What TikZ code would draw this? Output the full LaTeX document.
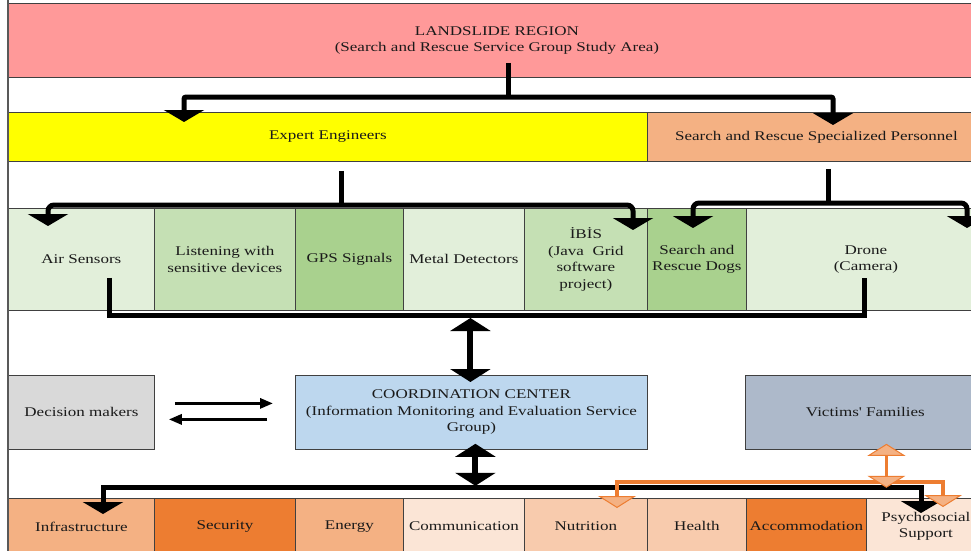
\documentclass[tikz,border=0pt]{standalone}
\usepackage{fontspec}
\setmainfont[FakeStretch=1.28]{Liberation Serif}
\newfontfamily\plainserif[FakeStretch=1.28,Ligatures=TeXOff]{Liberation Serif}
\usetikzlibrary{arrows.meta}
\definecolor{pinkc}{HTML}{FF9999}
\definecolor{yelc}{HTML}{FFFF00}
\definecolor{peachc}{HTML}{F4B183}
\definecolor{grnA}{HTML}{E2EFDA}
\definecolor{grnB}{HTML}{C5E0B4}
\definecolor{grnC}{HTML}{A9D18E}
\definecolor{greyc}{HTML}{D9D9D9}
\definecolor{bluec}{HTML}{BDD7EE}
\definecolor{slatec}{HTML}{ADB9CA}
\definecolor{orangec}{HTML}{ED7D31}
\definecolor{lightor}{HTML}{FBE5D6}
\definecolor{midor}{HTML}{F8CBAD}
\definecolor{bordc}{HTML}{404040}
\definecolor{txtc}{HTML}{1A1A1A}
\tikzset{
  BigTri/.tip={Triangle[width=40pt,length=12pt]},
  DblTri/.tip={Triangle[width=40pt,length=13pt]},
  OrTri/.tip={Triangle[width=38pt,length=12pt,fill=peachc,line width=1pt]},
  SmTri/.tip={Triangle[width=10pt,length=13pt]},
}
\begin{document}
\begin{tikzpicture}[x=1pt,y=-1pt,
  every node/.style={font=\fontsize{13.3}{16.6}\selectfont},
  cell/.style={draw=bordc, line width=0.8pt, anchor=north west, inner sep=0pt, align=center, text=txtc},
  blk/.style={draw=black, line width=5pt},
  dblk/.style={draw=black, line width=6pt, DblTri-DblTri},
  orl/.style={draw=orangec, line width=3.5pt},
  thinar/.style={draw=black, line width=3pt, -SmTri}]
\useasboundingbox (0,0) rectangle (971,551);
\clip (0,0) rectangle (971,551);
\fill[white] (0,0) rectangle (971,551);

% row 0
\node[cell, fill=pinkc, minimum width=977pt, minimum height=74pt] (land) at (8,3)
  {LANDSLIDE REGION\\(Search and Rescue Service Group Study Area)};
% row 1
\node[cell, fill=yelc, minimum width=639pt, minimum height=49pt] (ee) at (8,112) {Expert Engineers};
\node[cell, fill=peachc, minimum width=338pt, minimum height=49pt] (sar) at (647,112) {Search and Rescue Specialized Personnel};
% row 2
\node[cell, fill=grnA, minimum width=146pt, minimum height=102pt] (air) at (8,208) {Air Sensors};
\node[cell, fill=grnB, minimum width=141pt, minimum height=102pt] (lst) at (154,208) {Listening with\\sensitive devices};
\node[cell, fill=grnC, minimum width=108pt, minimum height=102pt] (gps) at (295,208) {GPS Signals};
\node[cell, fill=grnA, minimum width=121pt, minimum height=102pt] (met) at (403,208) {Metal Detectors};
\node[cell, fill=grnB, minimum width=123pt, minimum height=102pt] (ibis) at (524,208) {İBİS\\(Java~ Grid\\software\\project)};
\node[cell, fill=grnC, minimum width=99pt, minimum height=102pt] (dogs) at (647,208) {Search and\\Rescue Dogs};
\node[cell, fill=grnA, minimum width=239pt, minimum height=102pt] (drone) at (746,208) {Drone\\(Camera)};
% row 3
\node[cell, fill=greyc, minimum width=146pt, minimum height=74pt] (dm) at (8,375) {Decision makers};
\node[cell, fill=bluec, minimum width=352pt, minimum height=74pt] (cc) at (295,375)
  {COORDINATION CENTER\\(Information Monitoring and Evaluation Service\\Group)};
\node[cell, fill=slatec, minimum width=240pt, minimum height=74pt] (vf) at (745,375) {\plainserif Victims' Families};
% row 4
\node[cell, fill=peachc, minimum width=146pt, minimum height=56pt] (inf) at (8,498) {Infrastructure};
\node[cell, fill=orangec, minimum width=141pt, minimum height=56pt] (sec) at (154,498) {Security};
\node[cell, fill=peachc, minimum width=108pt, minimum height=56pt] (ene) at (295,498) {Energy};
\node[cell, fill=lightor, minimum width=121pt, minimum height=56pt] (com) at (403,498) {Communication};
\node[cell, fill=midor, minimum width=123pt, minimum height=56pt] (nut) at (524,498) {Nutrition};
\node[cell, fill=midor, minimum width=99pt, minimum height=56pt] (hea) at (647,498) {Health};
\node[cell, fill=orangec, minimum width=120pt, minimum height=56pt] (acc) at (746,498) {Accommodation};
\node[cell, fill=lightor, minimum width=119pt, minimum height=56pt] (psy) at (866,498) {Psychosocial\\Support};

% landslide -> engineers / personnel
\draw[blk] ([xshift=500pt,yshift=15pt]land.south west) -- (508,97);
\draw[blk, BigTri-BigTri, rounded corners=2pt] ([xshift=176pt,yshift=-10pt]ee.north west) -- (184,97) -- (833,97) -- ([xshift=186pt,yshift=-13pt]sar.north west);
% engineers -> tools
\draw[blk] ([xshift=333pt,yshift=-9pt]ee.south west) -- (341,205);
\draw[blk, BigTri-BigTri, rounded corners=6pt] ([xshift=40pt,yshift=-18pt]air.north west) -- (48,205) -- (633,205) -- ([xshift=109pt,yshift=-22pt]ibis.north west);
% personnel -> dogs / drone
\draw[blk] ([xshift=181pt,yshift=-7pt]sar.south west) -- (828,203);
\draw[blk, BigTri-BigTri, rounded corners=6pt] ([xshift=46pt,yshift=-20pt]dogs.north west) -- (693,203) -- (967,203) -- ([xshift=221pt,yshift=-20pt]drone.north west);
% tools collector
\draw[blk] ([xshift=101pt,yshift=33pt]air.south west) -- (109,315) -- (864,315) -- ([xshift=118pt,yshift=33pt]drone.south west);
\draw[dblk] ([xshift=-1pt,yshift=57pt]cc.north) -- ([xshift=-1pt,yshift=-7pt]cc.north);
% decision makers
\draw[thinar] ([xshift=20pt,yshift=9pt]dm.east) -- ([xshift=-22pt,yshift=9pt]cc.west);
\draw[thinar] ([xshift=-28pt,yshift=-7pt]cc.west) -- ([xshift=14pt,yshift=-7pt]dm.east);
% coordination -> services
\draw[dblk] ([xshift=4pt,yshift=6pt]cc.south) -- ([xshift=4pt,yshift=-36pt]cc.south);
\draw[blk, BigTri-BigTri] ([xshift=95pt,yshift=-16pt]inf.north west) -- (103,487) -- (921,487) -- ([xshift=55pt,yshift=-15pt]psy.north west);
% victims' families
\draw[orl, OrTri-OrTri] ([xshift=93pt,yshift=-10pt]nut.north west) -- (617,482) -- (943,482) -- ([xshift=77pt,yshift=-9pt]psy.north west);
\draw[orl, OrTri-OrTri] ([xshift=21pt,yshift=6pt]vf.south) -- ([xshift=21pt,yshift=-38pt]vf.south);

% frame
\draw[line width=2pt, draw=black!65] (8,0) -- (8,551);
\end{tikzpicture}
\end{document}
